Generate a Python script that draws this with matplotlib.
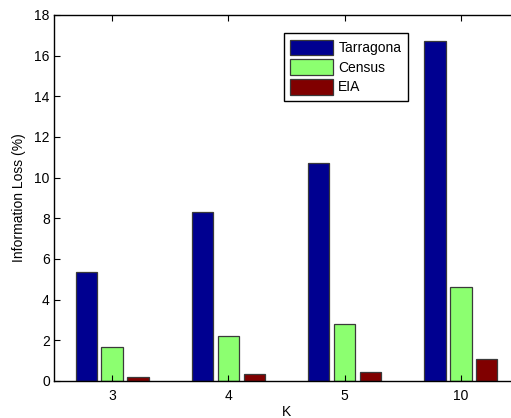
import numpy as np
import matplotlib
matplotlib.use("Agg")
import matplotlib.pyplot as plt

# Daten
k_labels = ["3", "4", "5", "10"]
tarragona = [5.38, 8.30, 10.70, 16.72]
census = [1.68, 2.21, 2.78, 4.60]
eia = [0.22, 0.33, 0.42, 1.06]

series = [("Tarragona", tarragona, "#000090"),
          ("Census", census, "#8CFF70"),
          ("EIA", eia, "#800000")]

plt.rcParams["font.family"] = ["Liberation Sans", "DejaVu Sans"]
plt.rcParams["font.size"] = 10

fig = plt.figure(figsize=(5.11, 4.18), dpi=100)
ax = fig.add_axes([54 / 511, 37 / 418, 465 / 511, 366 / 418])

x = np.arange(1, len(k_labels) + 1)
width = 0.183
offsets = [-0.222, 0.0, 0.222]
for (name, vals, col), off in zip(series, offsets):
    ax.bar(x + off, vals, width, color=col, edgecolor="#3a3a3a",
           linewidth=0.9, label=name)

ax.set_xlim(0.5, 4.5)
ax.set_ylim(0, 18)
ax.set_xticks(x)
ax.set_xticklabels(k_labels)
ax.set_yticks(np.arange(0, 19, 2))

ax.tick_params(direction="in", length=4, width=0.8, top=True, right=True,
               labelsize=10, colors="black")
ax.tick_params(axis="x", pad=6)
ax.tick_params(axis="y", pad=3)
for s in ax.spines.values():
    s.set_linewidth(1.0)
    s.set_color("black")

ax.set_xlabel("K", fontsize=10, labelpad=1)
ax.set_ylabel("Information Loss (%)", fontsize=10, labelpad=6)

leg = ax.legend(loc="upper left", bbox_to_anchor=(0.495, 0.95),
                borderaxespad=0, fontsize=10, handlelength=3.1,
                handleheight=1.35, labelspacing=0.3, handletextpad=0.35,
                borderpad=0.45, fancybox=False, framealpha=1,
                edgecolor="black")
leg.get_frame().set_linewidth(1.0)

fig.savefig("out.png", dpi=100)
